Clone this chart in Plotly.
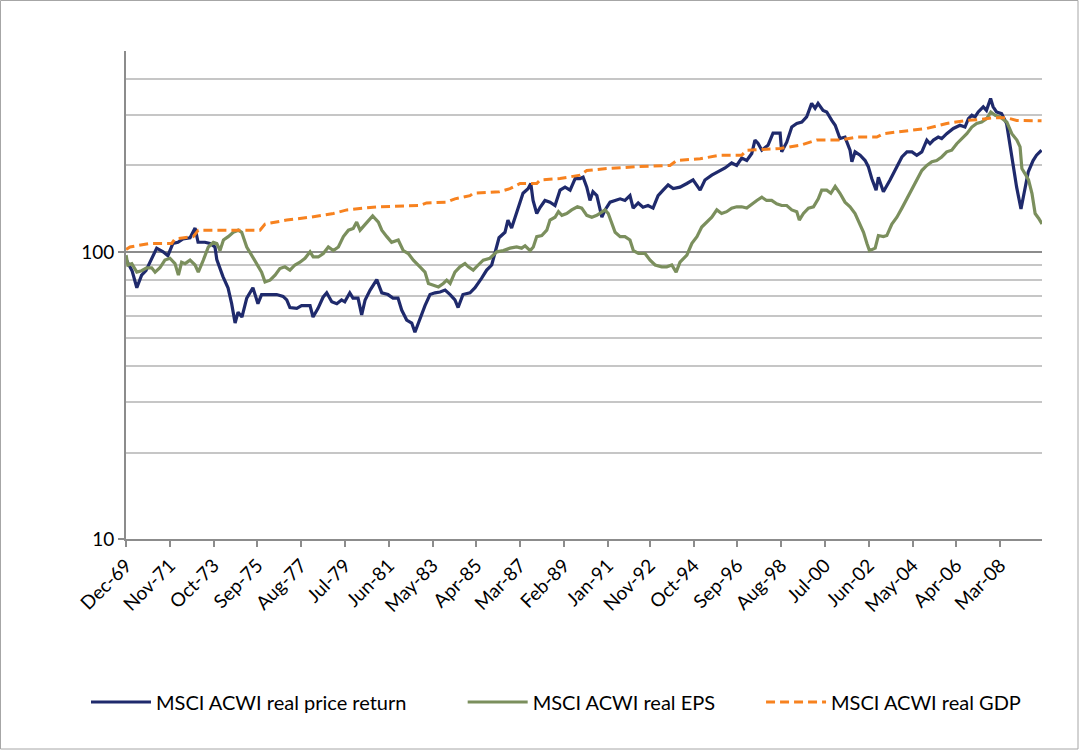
import plotly.graph_objects as go
from datetime import datetime

# ---- data (decimal years, index values) ----
price_t = [1969.92,1970.18,1970.39,1970.60,1970.79,1971.04,1971.26,1971.54,1971.75,1971.97,
 1972.19,1972.41,1972.72,1972.94,1973.07,1973.37,1973.59,1973.81,1973.89,1974.16,
 1974.38,1974.54,1974.69,1974.82,1974.99,1975.20,1975.47,1975.69,1975.85,1976.22,
 1976.51,1976.79,1976.95,1977.09,1977.39,1977.60,1977.97,1978.10,1978.32,1978.54,
 1978.70,1978.92,1979.14,1979.35,1979.49,1979.71,1979.85,1980.07,1980.23,1980.38,
 1980.60,1980.89,1981.11,1981.38,1981.60,1981.82,1981.98,1982.20,1982.42,1982.56,
 1982.70,1983.00,1983.22,1983.44,1983.66,1983.88,1984.10,1984.31,1984.45,1984.66,
 1984.97,1985.19,1985.48,1985.70,1985.92,1986.06,1986.24,1986.50,1986.63,1986.79,
 1986.94,1987.16,1987.29,1987.51,1987.63,1987.73,1987.89,1988.04,1988.25,1988.47,
 1988.69,1988.91,1989.13,1989.35,1989.57,1989.79,1989.92,1990.08,1990.22,1990.35,
 1990.52,1990.74,1990.88,1991.10,1991.32,1991.54,1991.75,1991.97,1992.11,1992.33,
 1992.54,1992.76,1992.98,1993.20,1993.42,1993.64,1993.86,1994.16,1994.46,1994.73,
 1995.04,1995.25,1995.55,1995.82,1996.13,1996.42,1996.64,1996.86,1997.08,1997.30,
 1997.44,1997.57,1997.74,1998.01,1998.23,1998.54,1998.61,1998.83,1999.05,1999.27,
 1999.49,1999.70,1999.92,2000.07,2000.20,2000.42,2000.58,2000.80,2000.95,2001.16,
 2001.38,2001.60,2001.68,2001.82,2002.04,2002.26,2002.40,2002.55,2002.74,2002.84,
 2003.06,2003.35,2003.65,2003.87,2004.09,2004.31,2004.52,2004.74,2004.96,2005.10,
 2005.25,2005.46,2005.61,2005.83,2006.12,2006.41,2006.63,2006.78,2006.93,2007.07,
 2007.21,2007.43,2007.57,2007.75,2007.86,2008.01,2008.23,2008.45,2008.59,2008.74,
 2008.89,2009.08,2009.25,2009.40,2009.61,2009.76,2009.98]
price_v = [94,86,75,83,86,95,103,100,97,107,
 108,111,112,121,108,108,107,104,94,82,
 75,66,56.5,61.6,59.3,69,75,66,71,71,
 71,70,68,64,63.6,65,65,59.3,63.6,69.5,
 72,67,66,68,67,72,69,69,60.3,68,
 73.6,80,72,71,69,69,62.7,57.9,56.5,52.5,
 56.5,65,71,72,72.5,73.6,71,68,64,71,
 72,75,81,86.4,90,100,112,117,129,121,
 132,151,160,166,173,151,136,143,151,149,
 145,164,168,164,180,180,182,168,151,162,
 157,132,140,149,151,153,151,157,142,148,
 143,145,142,157,164,171,166,168,173,178,
 164,178,185,190,196,204,200,212,208,220,
 245,239,226,235,259,259,223,241,272,280,
 283,295,329,316,329,311,307,287,276,248,
 251,226,206,223,217,208,198,180,164,182,
 162,178,198,214,223,223,217,223,245,238,
 245,251,248,258,269,276,272,291,299,295,
 307,320,311,342,320,307,303,280,238,198,
 168,141,168,190,208,217,226]

eps_t = [1969.92,1970.00,1970.17,1970.39,1970.60,1970.82,1971.04,1971.19,1971.40,1971.62,
 1971.84,1972.06,1972.21,1972.35,1972.50,1972.72,1972.94,1973.08,1973.30,1973.52,
 1973.74,1973.89,1974.03,1974.18,1974.39,1974.61,1974.83,1974.98,1975.20,1975.42,
 1975.63,1975.85,1976.00,1976.22,1976.44,1976.65,1976.87,1977.09,1977.31,1977.53,
 1977.75,1977.97,1978.11,1978.33,1978.55,1978.77,1978.99,1979.21,1979.43,1979.65,
 1979.86,1980.01,1980.16,1980.38,1980.60,1980.71,1980.96,1981.11,1981.33,1981.54,
 1981.83,1982.05,1982.27,1982.49,1982.78,1983.00,1983.15,1983.37,1983.59,1983.80,
 1983.95,1984.10,1984.31,1984.53,1984.75,1984.90,1985.11,1985.33,1985.55,1985.84,
 1986.14,1986.43,1986.72,1987.01,1987.23,1987.38,1987.60,1987.74,1987.89,1988.11,
 1988.33,1988.47,1988.69,1988.84,1988.99,1989.20,1989.42,1989.67,1989.86,1990.08,
 1990.30,1990.52,1990.74,1990.88,1991.02,1991.17,1991.32,1991.54,1991.75,1991.97,
 1992.12,1992.34,1992.63,1992.85,1993.07,1993.36,1993.58,1993.80,1993.99,1994.16,
 1994.46,1994.68,1994.90,1995.11,1995.33,1995.55,1995.77,1995.98,1996.20,1996.42,
 1996.64,1996.86,1997.08,1997.30,1997.52,1997.74,1997.95,1998.17,1998.39,1998.61,
 1998.83,1999.05,1999.27,1999.38,1999.56,1999.78,2000.00,2000.21,2000.36,2000.58,
 2000.76,2000.95,2001.16,2001.38,2001.60,2001.82,2002.04,2002.19,2002.34,2002.45,
 2002.70,2002.84,2003.06,2003.21,2003.43,2003.65,2003.87,2004.09,2004.31,2004.52,
 2004.74,2004.96,2005.18,2005.39,2005.61,2005.83,2006.05,2006.27,2006.49,2006.71,
 2006.93,2007.14,2007.36,2007.58,2007.76,2007.95,2008.17,2008.46,2008.68,2008.90,
 2009.04,2009.12,2009.26,2009.41,2009.56,2009.70,2009.85,2010.00]
eps_v = [97.4,90,91,85,86,88,88,85,88,93.6,
 95,91,83,92,91,93.6,90,85,93.6,104,
 108,107,101,110,113,117,119,117,104,97.4,
 91,85,78.6,79.7,83,87.5,88.7,86.4,90,92,
 95,100,96,96,98.7,104,101,104,113,119,
 120.7,127,119,125,130,133.5,127,119,113,108,
 110,101,98.7,93.6,88.7,85,77.6,76.6,75.5,77.6,
 79.7,77.6,85,88.7,91,88.7,86.4,90,93.6,95,
 100,101,103,104,103,105,101,104,113,114,
 119,129,132,138,134,136,140,143.5,142,134,
 132,134,138,140,136,125,117,113,113,110,
 101,98.7,98.7,93.6,90,88.7,88.7,90,85,92,
 97.4,107,113,122,127,132,140,136,138,142,
 143.5,143.5,142,147,151,155,151,151,147,145,
 145,140,138,129,136,142,143.5,153,164,164,
 160,169,160,149,143.5,136,125,117,107,101,
 103,114,113,114,125,132,142,153,164,178,
 192,200,206,208,214,223,226,238,248,258,
 272,280,283,291,307,299,295,283,258,245,
 232,195,187,178,160,136,131,125]

gdp_t = [1969.92,1970.09,1970.97,1971.92,1972.06,1972.86,1973.08,1975.78,1976.00,1976.95,
 1977.97,1978.99,1979.58,1980.89,1982.78,1983.07,1983.95,1984.31,1984.97,1985.11,
 1986.25,1986.72,1987.16,1987.89,1988.04,1988.91,1989.79,1990.08,1990.95,1992.27,
 1993.72,1994.02,1995.04,1995.91,1996.86,1997.08,1998.54,1999.41,2000.14,2001.16,
 2001.89,2002.77,2003.06,2003.93,2004.96,2005.83,2006.71,2007.29,2007.87,2008.46,
 2008.89,2009.98]
gdp_v = [102,104,107,107,111,113,119,119,125,129,
 132,136,140,143.5,145,148,149,153,157,160,
 162,166,173,173,178,180,185,192,195,198,
 200,208,211,217,217,226,229,235,245,245,
 251,251,258,263,269,280,287,289,293,293,
 287,286]

tick_labels = ["Dec-69","Nov-71","Oct-73","Sep-75","Aug-77","Jul-79","Jun-81","May-83",
               "Apr-85","Mar-87","Feb-89","Jan-91","Nov-92","Oct-94","Sep-96","Aug-98",
               "Jul-00","Jun-02","May-04","Apr-06","Mar-08"]

series_names = ["MSCI ACWI real price return", "MSCI ACWI real EPS", "MSCI ACWI real GDP"]
legend_pad = [10, 8, 0]  # trailing non-breaking spaces for legend spacing

def label_to_year(lbl):
    d = datetime.strptime(lbl, "%b-%y")
    return d.year + (d.month - 1) / 12.0

tick_pos = [label_to_year(l) for l in tick_labels]

FONT = "Lato, Carlito, Calibri, sans-serif"
NAVY = "#1F2A6C"
GREEN = "#7B8F5D"
ORANGE = "#F7821F"

fig = go.Figure()
fig.add_trace(go.Scatter(x=price_t, y=price_v, mode="lines",
                         name=series_names[0] + "\u00a0" * legend_pad[0],
                         line=dict(color=NAVY, width=3.2)))
fig.add_trace(go.Scatter(x=eps_t, y=eps_v, mode="lines",
                         name=series_names[1] + "\u00a0" * legend_pad[1],
                         line=dict(color=GREEN, width=3.2)))
fig.add_trace(go.Scatter(x=gdp_t, y=gdp_v, mode="lines",
                         name=series_names[2] + "\u00a0" * legend_pad[2],
                         line=dict(color=ORANGE, width=3, dash="9px,5px")))

W, H = 1081, 752
L, R, T, B = 126, 39, 51, 213
pw, ph = W - L - R, H - T - B

fig.update_layout(
    width=W, height=H,
    margin=dict(l=L, r=R, t=T, b=B, autoexpand=False),
    paper_bgcolor="white", plot_bgcolor="white",
    font=dict(family=FONT, size=19, color="#000000"),
    showlegend=True,
    legend=dict(orientation="h", x=(86 - L) / pw, xanchor="left",
                y=(T + ph - 702) / ph, yanchor="middle",
                font=dict(family=FONT, size=20, color="#000000"),
                itemwidth=60, bgcolor="rgba(0,0,0,0)"),
    xaxis=dict(range=[label_to_year("Dec-69"), 2010.0], tickmode="array",
               tickvals=tick_pos, ticktext=tick_labels, tickangle=-45,
               showgrid=False, zeroline=False, showline=True,
               linecolor="#8C8C8C", linewidth=2,
               ticks="outside", ticklen=6, tickcolor="#8C8C8C", tickwidth=1.5,
               tickfont=dict(family=FONT, size=19, color="#000000")),
    yaxis=dict(type="log", range=[1, 2.6995], tickmode="array",
               tickvals=[10, 100], ticktext=["10", "100"],
               showgrid=True, gridcolor="#8C8C8C", gridwidth=2,
               zeroline=False, showline=True, linecolor="#8C8C8C", linewidth=2,
               ticks="outside", ticklen=6, tickcolor="#8C8C8C", tickwidth=1.5,
               tickfont=dict(family=FONT, size=19, color="#000000"),
               minor=dict(tickmode="array",
                          tickvals=[20, 30, 40, 50, 60, 70, 80, 90, 200, 300, 400, 500],
                          showgrid=True, gridcolor="#C6C6C6", gridwidth=2, ticks="")),
    shapes=[dict(type="rect", xref="paper", yref="paper",
                 x0=(0.5 - L) / pw, x1=(W - 3 - L) / pw,
                 y0=(T + ph - (H - 3)) / ph, y1=(T + ph - 0.5) / ph,
                 line=dict(color="#A6A6A6", width=1), fillcolor="rgba(0,0,0,0)",
                 layer="below")],
)

fig.write_html("out.html", config={"displayModeBar": False},
               post_script="document.body.style.margin='0';document.body.style.overflow='hidden';")
